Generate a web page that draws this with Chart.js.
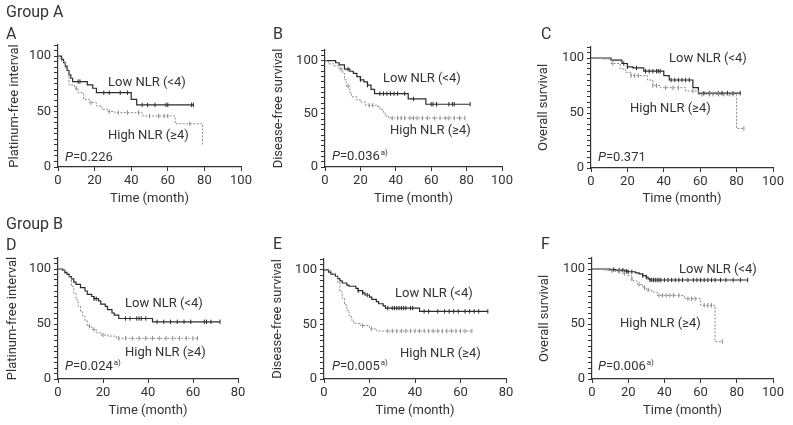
<!DOCTYPE html>
<html>
<head>
<meta charset="utf-8">
<script src="https://cdn.jsdelivr.net/npm/chart.js@4.4.0/dist/chart.umd.min.js"></script>
<style>
  body { margin: 0; width: 793px; height: 425px; position: relative; background: #fff;
         font-family: Roboto, sans-serif; color: #333; overflow: hidden; }
  canvas { position: absolute; }
  .t { position: absolute; font-size: 13px; line-height: 16px; white-space: nowrap; transform: translateY(-50%); }
  .h { position: absolute; font-size: 16px; line-height: 18px; white-space: nowrap; transform: translateY(-50%); }
  .sup { font-size: 8px; position: relative; top: -5px; margin-left: 1px; }
</style>
</head>
<body>
<div class="h" style="left:6px;top:12px">Group A</div>
<div class="h" style="left:6px;top:34px">A</div>
<div class="h" style="left:273px;top:34px">B</div>
<div class="h" style="left:541px;top:34px">C</div>
<div class="h" style="left:6px;top:224px">Group B</div>
<div class="h" style="left:6px;top:245px">D</div>
<div class="h" style="left:273px;top:244px">E</div>
<div class="h" style="left:541px;top:244px">F</div>

<div class="t" style="left:108px;top:82px">Low NLR (&lt;4)</div>
<div class="t" style="left:108px;top:135px">High NLR (≥4)</div>
<div class="t" style="left:65px;top:157px"><i>P</i>=0.226</div>

<div class="t" style="left:383px;top:78px">Low NLR (&lt;4)</div>
<div class="t" style="left:390px;top:130px">High NLR (≥4)</div>
<div class="t" style="left:332px;top:157px"><i>P</i>=0.036<span class="sup">a)</span></div>

<div class="t" style="left:669px;top:58px">Low NLR (&lt;4)</div>
<div class="t" style="left:630px;top:108px">High NLR (≥4)</div>
<div class="t" style="left:598px;top:157px"><i>P</i>=0.371</div>

<div class="t" style="left:125px;top:303px">Low NLR (&lt;4)</div>
<div class="t" style="left:125px;top:352px">High NLR (≥4)</div>
<div class="t" style="left:65px;top:367px"><i>P</i>=0.024<span class="sup">a)</span></div>

<div class="t" style="left:395px;top:293px">Low NLR (&lt;4)</div>
<div class="t" style="left:400px;top:353px">High NLR (≥4)</div>
<div class="t" style="left:332px;top:367px"><i>P</i>=0.005<span class="sup">a)</span></div>

<div class="t" style="left:679px;top:269px">Low NLR (&lt;4)</div>
<div class="t" style="left:620px;top:323px">High NLR (≥4)</div>
<div class="t" style="left:598px;top:367px"><i>P</i>=0.006<span class="sup">a)</span></div>

<script>
// Kaplan-Meier steps: event times, survival (%) after each step, last follow-up, censor times

// Panel A - Group A, platinum-free interval
const aLowT = [0, 2, 3, 4, 5, 6, 7, 8, 16, 19, 21, 40, 43];
const aLowS = [100, 97, 94, 91, 87, 83, 80, 77, 74, 71, 67, 61, 56];
const aLowEnd = 74;
const aLowCens = [11, 12, 25, 28, 34, 38, 46, 49, 53, 59, 60, 73, 74];
const aHighT = [0, 1, 2, 4, 6, 9, 11, 14, 17, 21, 24, 27, 31, 46, 64, 79];
const aHighS = [100, 98, 95, 88, 74, 71, 67, 61, 58, 55, 52, 50, 49, 46, 39, 20];
const aHighEnd = 79;
const aHighCens = [10, 18, 28, 33, 38, 44, 50, 55, 58, 60, 72];

// Panel B - Group A, disease-free survival
const bLowT = [0, 6, 8, 11, 14, 16, 18, 20, 22, 24, 26, 28, 47, 57];
const bLowS = [100, 98, 96, 92, 90, 88, 85, 82, 80, 77, 73, 69, 64, 59];
const bLowEnd = 82;
const bLowCens = [13, 20, 24, 31, 33, 35, 37, 39, 41, 45, 50, 60, 61, 63, 70, 72, 73, 82];
const bHighT = [0, 2, 5, 8, 10, 11, 12, 14, 15, 18, 20, 23, 29, 31, 33, 34, 36];
const bHighS = [100, 97, 95, 92, 88, 82, 76, 70, 66, 63, 61, 58, 57, 54, 51, 48, 46];
const bHighEnd = 79;
const bHighCens = [9, 13, 25, 27, 38, 41, 43, 45, 48, 50, 52, 55, 58, 62, 65, 68, 70, 73, 76, 79];

// Panel C - Group A, overall survival
const cLowT = [0, 11, 17, 20, 23, 29, 40, 43, 56, 59];
const cLowS = [100, 98, 95, 92, 91, 88, 84, 80, 73, 68];
const cLowEnd = 82;
const cLowCens = [18, 20, 25, 30, 32, 34, 36, 37, 38, 44, 46, 48, 50, 52, 54, 62, 65, 70, 72, 75, 78, 82];
const cHighT = [0, 6, 11, 16, 19, 22, 31, 34, 38, 52, 59, 80];
const cHighS = [100, 99, 95, 90, 87, 84, 80, 75, 73, 70, 67, 36];
const cHighEnd = 84;
const cHighCens = [12, 22, 24, 26, 34, 36, 41, 45, 48, 56, 61, 65, 67, 70, 73, 76, 78, 84];

// Panel D - Group B, platinum-free interval
const dLowT = [0, 2, 3, 4, 5, 6, 7, 8, 10, 12, 13, 15, 16, 18, 19, 21, 22, 24, 25, 27, 42];
const dLowS = [100, 99, 97, 95, 93, 91, 88, 86, 83, 80, 77, 75, 73, 71, 68, 66, 63, 60, 58, 55, 52];
const dLowEnd = 72;
const dLowCens = [16, 17, 30, 32, 35, 36, 37, 39, 44, 47, 50, 53, 56, 59, 65, 66, 68, 72];
const dHighT = [0, 3, 5, 6, 7, 8, 9, 10, 11, 12, 13, 15, 17, 19, 22, 26];
const dHighS = [100, 96, 92, 84, 78, 72, 66, 61, 57, 53, 48, 45, 42, 40, 39, 37];
const dHighEnd = 62;
const dHighCens = [14, 16, 20, 27, 30, 33, 36, 39, 42, 45, 48, 51, 54, 57, 60, 62];

// Panel E - Group B, disease-free survival
const eLowT = [0, 2, 3, 5, 6, 7, 8, 10, 11, 14, 15, 17, 18, 20, 21, 23, 24, 26, 27, 42];
const eLowS = [100, 98, 96, 94, 92, 90, 88, 86, 85, 83, 81, 79, 77, 75, 73, 71, 69, 67, 65, 62];
const eLowEnd = 72;
const eLowCens = [15, 17, 19, 28, 30, 31, 32, 33, 34, 35, 36, 38, 39, 44, 46, 50, 53, 55, 57, 59, 62, 64, 66, 68, 72];
const eHighT = [0, 3, 5, 6, 7, 8, 9, 10, 11, 12, 13, 16, 20, 23];
const eHighS = [100, 97, 94, 88, 80, 74, 68, 63, 58, 54, 51, 49, 46, 44];
const eHighEnd = 65;
const eHighCens = [17, 21, 28, 30, 32, 34, 36, 38, 40, 42, 44, 46, 48, 50, 52, 54, 56, 58, 60, 62, 65];

// Panel F - Group B, overall survival
const fLowT = [0, 10, 13, 18, 20, 24, 26, 28, 30, 31, 32];
const fLowS = [100, 99.5, 99, 98, 97.5, 96.5, 95.5, 94, 92.5, 91, 90];
const fLowEnd = 86;
const fLowCens = [12, 15, 17, 19, 20, 22, 28, 30, 32, 33, 34, 35, 36, 37, 38, 40, 42, 44, 46, 48, 50, 53, 56, 58, 60, 62, 64, 66, 68, 71, 74, 78, 82, 86];
const fHighT = [0, 6, 9, 13, 17, 20, 22, 23, 25, 28, 30, 33, 36, 51, 60, 68];
const fHighS = [100, 99, 98.5, 97.5, 96, 94, 91, 89, 86, 83, 81, 79, 76, 73, 67, 34];
const fHighEnd = 72;
const fHighCens = [11, 15, 18, 22, 26, 29, 31, 37, 39, 41, 43, 45, 48, 53, 55, 57, 62, 64, 66, 72];

const yTitles = ['Platinum-free interval', 'Disease-free survival', 'Overall survival'];
const xTitle = 'Time (month)';
const yTickLabels = [0, 50, 100];

const LOW_COLOR = '#2b2b2b';
const HIGH_COLOR = '#8a8a8a';
const TEXT = '#333';

function curve(t, s, end) {
  const pts = t.map((x, i) => ({ x: x, y: s[i] }));
  pts.push({ x: end, y: s[s.length - 1] });
  return pts;
}

function censorPts(t, s, cens) {
  return cens.map(c => {
    let v = s[0];
    t.forEach((x, i) => { if (x <= c) v = s[i]; });
    return { x: c, y: v };
  });
}

// box: canvas left/top/width/height, chart area edges in page pixels
const panels = [
  { low: [aLowT, aLowS, aLowEnd, aLowCens], high: [aHighT, aHighS, aHighEnd, aHighCens], yTitle: yTitles[0],
    xMax: 100, box: [0, 20, 260, 192], area: [58, 45, 241, 167], yPad: 7, xPad: 5 },
  { low: [bLowT, bLowS, bLowEnd, bLowCens], high: [bHighT, bHighS, bHighEnd, bHighCens], yTitle: yTitles[1],
    xMax: 100, box: [264, 20, 262, 192], area: [325, 50, 502, 167], yPad: 7, xPad: 5 },
  { low: [cLowT, cLowS, cLowEnd, cLowCens], high: [cHighT, cHighS, cHighEnd, cHighCens], yTitle: yTitles[2],
    xMax: 100, box: [529, 20, 264, 192], area: [591, 47, 773, 168], yPad: 7, xPad: 5 },
  { low: [dLowT, dLowS, dLowEnd, dLowCens], high: [dHighT, dHighS, dHighEnd, dHighCens], yTitle: yTitles[0],
    xMax: 80, box: [0, 225, 260, 200], area: [58, 258, 238, 379], yPad: 5, xPad: 6 },
  { low: [eLowT, eLowS, eLowEnd, eLowCens], high: [eHighT, eHighS, eHighEnd, eHighCens], yTitle: yTitles[1],
    xMax: 80, box: [263, 225, 262, 200], area: [324, 259, 506, 379], yPad: 7, xPad: 6 },
  { low: [fLowT, fLowS, fLowEnd, fLowCens], high: [fHighT, fHighS, fHighEnd, fHighCens], yTitle: yTitles[2],
    xMax: 100, box: [530, 225, 263, 200], area: [592, 258, 773, 379], yPad: 7, xPad: 6 }
];

const font = { family: 'Roboto', size: 13 };

panels.forEach(p => {
  const [cx, cy, cw, ch] = p.box;
  const [al, at, ar, ab] = p.area;
  const cv = document.createElement('canvas');
  cv.style.left = cx + 'px';
  cv.style.top = cy + 'px';
  cv.style.width = cw + 'px';
  cv.style.height = ch + 'px';
  cv.width = cw;
  cv.height = ch;
  document.body.insertBefore(cv, document.body.firstChild);

  const lineSet = (d, color, dash, width) => ({
    type: 'scatter', data: curve(d[0], d[1], d[2]), showLine: true, stepped: true,
    borderColor: color, borderWidth: width, borderDash: dash, pointRadius: 0, fill: false
  });
  const censSet = (d, color) => ({
    type: 'scatter', data: censorPts(d[0], d[1], d[3]), showLine: false,
    pointStyle: 'line', rotation: 90, pointRadius: 2.2, borderColor: color, borderWidth: 1,
    pointBackgroundColor: color
  });

  new Chart(cv, {
    type: 'scatter',
    data: {
      datasets: [
        lineSet(p.high, HIGH_COLOR, [2, 1.5], 1),
        censSet(p.high, HIGH_COLOR),
        lineSet(p.low, LOW_COLOR, [], 1.2),
        censSet(p.low, LOW_COLOR)
      ]
    },
    options: {
      responsive: false,
      animation: false,
      events: [],
      layout: { padding: { left: 0, top: at - cy, right: cx + cw - ar, bottom: 0 } },
      plugins: { legend: { display: false }, tooltip: { enabled: false } },
      scales: {
        x: {
          type: 'linear', min: 0, max: p.xMax,
          grid: { drawOnChartArea: false, tickLength: 4, color: TEXT, tickColor: TEXT },
          border: { color: TEXT, width: 1.2 },
          ticks: { stepSize: 20, color: TEXT, font: font, padding: 2, maxRotation: 0 },
          title: { display: true, text: xTitle, color: TEXT, font: font, padding: { top: 0, bottom: p.xPad } },
          afterFit: s => { s.height = cy + ch - ab; s.paddingLeft = 0; s.paddingRight = 0; }
        },
        y: {
          type: 'linear', min: 0, max: 110,
          grid: { drawOnChartArea: false, tickLength: 4, color: TEXT, tickColor: TEXT },
          border: { color: TEXT, width: 1.2 },
          ticks: {
            stepSize: 5, autoSkip: false, color: TEXT, font: font, padding: 3,
            callback: v => (yTickLabels.includes(v) ? String(v) : '')
          },
          title: { display: true, text: p.yTitle, color: TEXT, font: font, padding: { top: p.yPad, bottom: 0 } },
          afterFit: s => { s.width = al - cx; s.paddingTop = 0; s.paddingBottom = 0; }
        }
      }
    }
  });
});
</script>
</body>
</html>
